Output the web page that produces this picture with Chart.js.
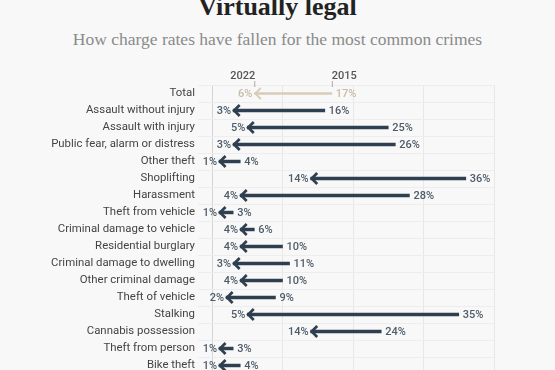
<!DOCTYPE html>
<html>
<head>
<meta charset="utf-8">
<script src="https://cdn.jsdelivr.net/npm/chart.js@4.4.0/dist/chart.umd.min.js"></script>
<style>
  html, body { margin: 0; padding: 0; background: #f8f8f8; overflow: hidden; width: 555px; height: 370px; }
  #title { position: absolute; left: 0; width: 555px; top: -8px; text-align: center; font-family: 'Liberation Serif', serif; font-weight: bold; font-size: 26px; color: #222; }
  #sub { position: absolute; left: 0; width: 555px; top: 29px; text-align: center; font-family: 'Liberation Serif', serif; font-size: 17.5px; color: #8a8a8a; }
  #wrap { position: absolute; left: 0; top: 0; }
</style>
</head>
<body>
<div id="title">Virtually legal</div>
<div id="sub">How charge rates have fallen for the most common crimes</div>
<div id="wrap"><canvas id="myChart" width="555" height="400"></canvas></div>
<script>
// charge rates, %
const crimes = ['Total', 'Assault without injury', 'Assault with injury', 'Public fear, alarm or distress', 'Other theft', 'Shoplifting', 'Harassment', 'Theft from vehicle', 'Criminal damage to vehicle', 'Residential burglary', 'Criminal damage to dwelling', 'Other criminal damage', 'Theft of vehicle', 'Stalking', 'Cannabis possession', 'Theft from person', 'Bike theft']
const rate2022 = [6, 3, 5, 3, 1, 14, 4, 1, 4, 4, 3, 4, 2, 5, 14, 1, 1]
const rate2015 = [17, 16, 25, 26, 4, 36, 28, 3, 6, 10, 11, 10, 9, 35, 24, 3, 4]
const yearLabels = ['2022', '2015']
const xTicks = [0, 10, 20, 30, 40]

const dark = '#2e3f50'
const beige = '#d9ccb9'

const totalRange = crimes.map((c, i) => i === 0 ? [rate2022[i], rate2015[i]] : null)
const otherRange = crimes.map((c, i) => i === 0 ? null : [rate2022[i], rate2015[i]])

const arrowPlugin = {
  id: 'arrows',
  afterDatasetsDraw(chart) {
    const ctx = chart.ctx
    const x = chart.scales.x
    const y = chart.scales.y
    ctx.save()
    crimes.forEach((c, i) => {
      const yy = y.getPixelForValue(i)
      const x1 = x.getPixelForValue(rate2022[i])
      const x2 = x.getPixelForValue(rate2015[i])
      const col = i === 0 ? beige : dark
      // head
      ctx.strokeStyle = col
      ctx.lineWidth = i === 0 ? 1.8 : 2.7
      ctx.lineCap = 'butt'
      ctx.lineJoin = 'miter'
      ctx.beginPath()
      ctx.moveTo(x1 + 6.5, yy - 5.5)
      ctx.lineTo(x1 + 1, yy)
      ctx.lineTo(x1 + 6.5, yy + 5.5)
      ctx.stroke()
      // values
      ctx.font = '500 11px Roboto'
      ctx.fillStyle = i === 0 ? '#c9bba6' : '#4e5c6a'
      ctx.textBaseline = 'middle'
      ctx.textAlign = 'right'
      ctx.fillText(rate2022[i] + '%', x1 - 2, yy + 1)
      ctx.textAlign = 'left'
      ctx.fillText(rate2015[i] + '%', x2 + 4, yy + 1)
    })
    // year header over the total row
    const t1 = x.getPixelForValue(rate2022[0])
    const t2 = x.getPixelForValue(rate2015[0])
    ctx.strokeStyle = '#aaa'
    ctx.lineWidth = 1
    ctx.beginPath()
    ctx.moveTo(t1 + 0.5, 81); ctx.lineTo(t1 + 0.5, 87)
    ctx.moveTo(t2 + 0.5, 81); ctx.lineTo(t2 + 0.5, 87)
    ctx.stroke()
    ctx.font = '500 11px Roboto'
    ctx.fillStyle = '#555'
    ctx.textBaseline = 'alphabetic'
    ctx.textAlign = 'right'
    ctx.fillText(yearLabels[0], t1 + 1, 79)
    ctx.textAlign = 'left'
    ctx.fillText(yearLabels[1], t2, 79)
    ctx.restore()
  }
}

const ctx = document.getElementById('myChart').getContext('2d')
const myChart = new Chart(ctx, {
  type: 'bar',
  data: {
    labels: crimes,
    datasets: [
      { data: totalRange, backgroundColor: beige, barThickness: 1.8, grouped: false },
      { data: otherRange, backgroundColor: dark, barThickness: 2.8, grouped: false }
    ]
  },
  options: {
    indexAxis: 'y',
    responsive: false,
    animation: false,
    devicePixelRatio: 1,
    layout: { padding: { top: 85, right: 61, left: 0, bottom: 0 } },
    plugins: { legend: { display: false }, tooltip: { enabled: false } },
    scales: {
      x: {
        min: 0, max: 40,
        afterBuildTicks: s => { s.ticks = xTicks.map(v => ({ value: v })) },
        afterFit: s => { s.height = 26 },
        ticks: { display: false },
        grid: { color: c => c.tick && c.tick.value === 0 ? '#d4d4d4' : '#e8e8e8', drawTicks: false },
        border: { display: false }
      },
      y: {
        afterFit: s => { s.width = 212 },
        grid: { color: '#ededed', tickLength: 14 },
        border: { display: false },
        ticks: { color: '#444', padding: 3, font: { family: 'Roboto', size: 11.4 } }
      }
    }
  },
  plugins: [arrowPlugin]
})
</script>
</body>
</html>
